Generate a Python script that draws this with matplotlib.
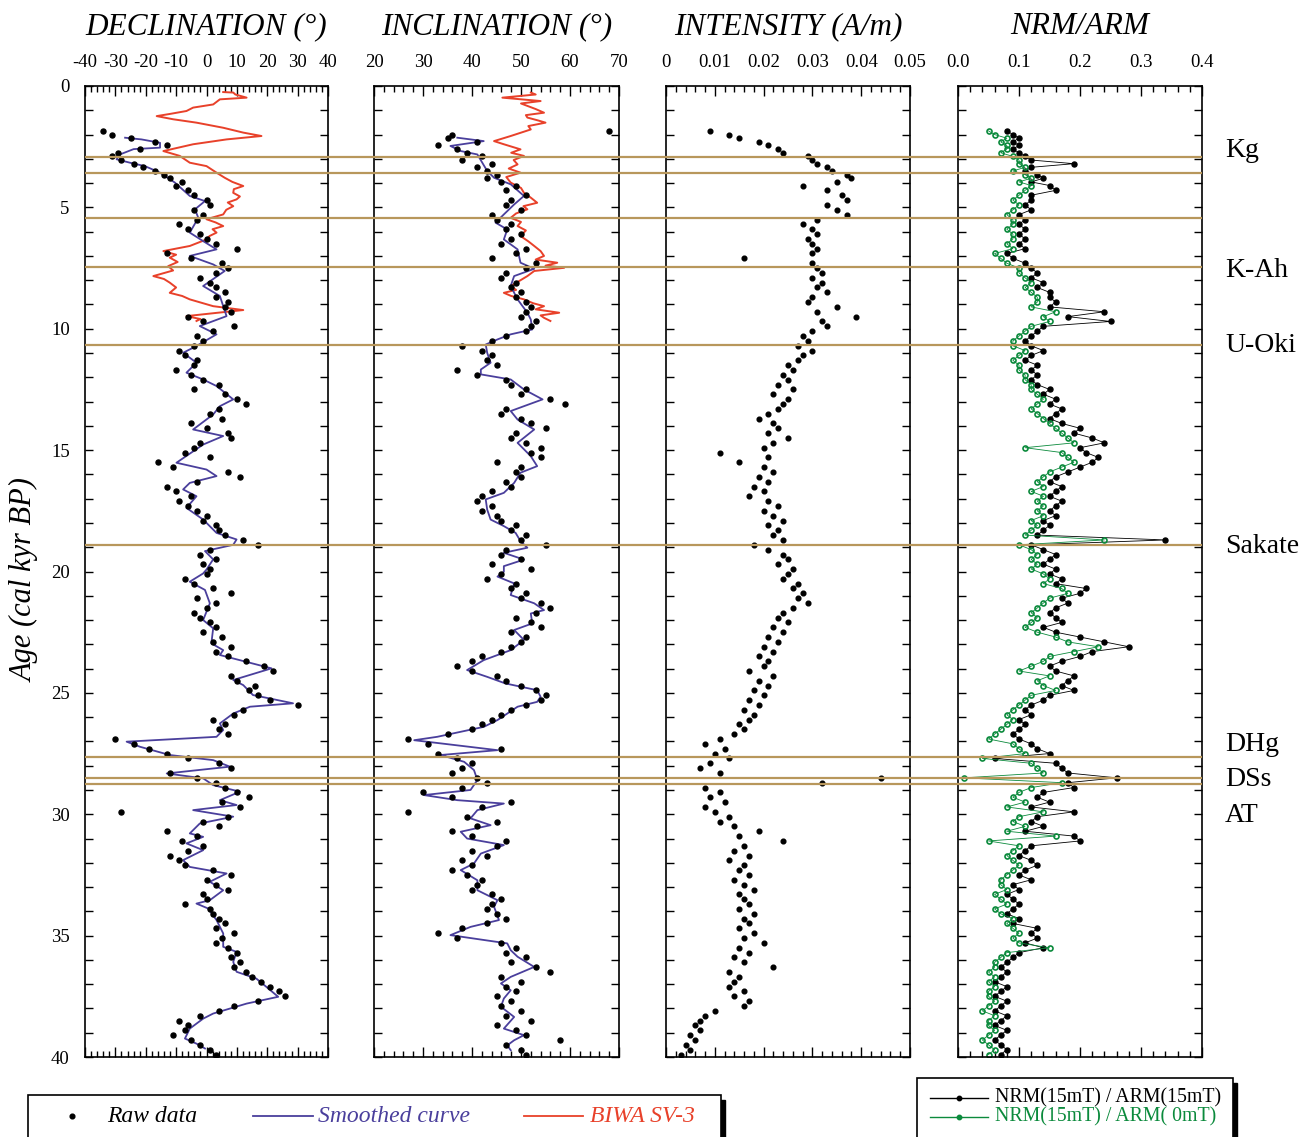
import matplotlib
matplotlib.use('Agg')
import matplotlib.pyplot as plt
from matplotlib.ticker import MultipleLocator
from matplotlib.patches import Rectangle
from matplotlib.lines import Line2D

plt.rcParams['font.family'] = ['Liberation Serif', 'DejaVu Serif']
plt.rcParams['axes.unicode_minus'] = False

# sample ages (cal kyr BP), shared by all raw-data columns
ages = [1.85, 2.0, 2.15, 2.3, 2.45, 2.6, 2.75, 2.9, 3.05, 3.2, 3.35, 3.5, 3.65, 3.8, 3.95,
        4.1, 4.3, 4.5, 4.7, 4.9, 5.1, 5.3, 5.5, 5.7, 5.9,
        6.1, 6.3, 6.5, 6.7, 6.9, 7.1, 7.3, 7.5, 7.7, 7.9,
        8.1, 8.3, 8.5, 8.7, 8.9, 9.1, 9.3, 9.5, 9.7, 9.9,
        10.1, 10.3, 10.5, 10.7, 10.9, 11.1, 11.3, 11.5, 11.7, 11.9,
        12.1, 12.3, 12.5, 12.7, 12.9, 13.1, 13.3, 13.5, 13.7, 13.9,
        14.1, 14.3, 14.5, 14.7, 14.9, 15.1, 15.3, 15.5, 15.7, 15.9,
        16.1, 16.3, 16.5, 16.7, 16.9, 17.1, 17.3, 17.5, 17.7, 17.9,
        18.1, 18.3, 18.5, 18.7, 18.9, 19.1, 19.3, 19.5, 19.7, 19.9,
        20.1, 20.3, 20.5, 20.7, 20.9, 21.1, 21.3, 21.5, 21.7, 21.9,
        22.1, 22.3, 22.5, 22.7, 22.9, 23.1, 23.3, 23.5, 23.7, 23.9,
        24.1, 24.3, 24.5, 24.7, 24.9, 25.1, 25.3, 25.5, 25.7, 25.9,
        26.1, 26.3, 26.5, 26.7, 26.9, 27.1, 27.3, 27.5, 27.7, 27.9,
        28.1, 28.3, 28.5, 28.7, 28.9, 29.1, 29.3, 29.5, 29.7, 29.9,
        30.1, 30.3, 30.5, 30.7, 30.9, 31.1, 31.3, 31.5, 31.7, 31.9,
        32.1, 32.3, 32.5, 32.7, 32.9, 33.1, 33.3, 33.5, 33.7, 33.9,
        34.1, 34.3, 34.5, 34.7, 34.9, 35.1, 35.3, 35.5, 35.7, 35.9,
        36.1, 36.3, 36.5, 36.7, 36.9, 37.1, 37.3, 37.5, 37.7, 37.9,
        38.1, 38.3, 38.5, 38.7, 38.9, 39.1, 39.3, 39.5, 39.7, 39.9]

dec_raw = [-34, -31, -25, -17, -13, -22, -29, -31, -28, -24, -21, -17, -14, -12, -8,
           -10, -6, -4, 0, 1, -4, -1, -3, -9, -6,
           -2, 0, 3, 10, -13, -5, 5, 7, 3, -2,
           1, 3, 6, 3, 7, 6, 8, -6, -1, 9,
           2, -3, -1, -4, -9, -7, -3, -4, -10, -5,
           -1, 4, -4, 6, 10, 13, 4, 1, 5, -5,
           0, 7, 8, -2, -4, -7, 1, -16, -11, 7,
           11, -3, -13, -10, -5, -9, -6, -3, 0, -1,
           3, 4, 6, 12, 17, 1, -2, 3, -1, 1,
           0, -7, -4, 2, 8, -3, 3, 0, -4, -2,
           1, 3, -1, 5, 2, 8, 3, 7, 13, 19,
           22, 8, 10, 16, 14, 17, 21, 30, 12, 9,
           2, 6, 4, 7, -30, -24, -19, -13, -6, 4,
           8, -12, -3, 3, 6, 10, 14, 5, 11, -28,
           7, -1, 4, -13, -3, -8, -1, -6, -12, -9,
           -7, 2, 8, 0, 3, 7, -1, 0, -7, 1,
           2, 4, 6, 3, 9, 5, 3, 7, 10, 8,
           11, 9, 13, 15, 18, 21, 24, 26, 17, 9,
           4, -2, -9, -6, -7, -11, -5, -2, 1, 3]

inc_raw = [68, 36, 35, 41, 33, 37, 39, 42, 38, 44, 41, 43, 45, 43, 46,
           49, 47, 51, 48, 47, 50, 44, 45, 48, 47,
           50, 48, 46, 51, 49, 44, 53, 51, 47, 46,
           49, 48, 50, 49, 51, 52, 51, 50, 53, 52,
           51, 47, 44, 38, 42, 44, 43, 45, 37, 41,
           47, 48, 51, 50, 56, 59, 47, 46, 50, 52,
           55, 49, 48, 51, 54, 52, 54, 45, 50, 49,
           50, 47, 48, 44, 42, 41, 44, 42, 45, 46,
           49, 48, 51, 50, 55, 47, 46, 50, 44, 52,
           46, 43, 49, 48, 51, 50, 54, 56, 53, 49,
           52, 54, 48, 51, 50, 48, 46, 42, 40, 37,
           40, 45, 47, 50, 53, 55, 54, 51, 48, 46,
           44, 42, 40, 35, 27, 31, 46, 33, 37, 40,
           38, 36, 41, 43, 38, 30, 36, 48, 42, 27,
           39, 45, 41, 36, 40, 47, 45, 40, 43, 38,
           40, 36, 39, 42, 41, 40, 44, 46, 44, 43,
           45, 47, 43, 38, 33, 37, 46, 49, 47, 51,
           48, 53, 56, 46, 50, 47, 49, 45, 48, 46,
           50, 47, 52, 45, 49, 51, 58, 47, 50, 51]

intensity = [.009, .013, .015, .019, .021, .023, .024, .029, .030, .031, .033, .034, .037, .038, .035,
             .028, .033, .036, .037, .033, .035, .037, .031, .028, .030,
             .031, .029, .030, .031, .030, .016, .030, .031, .032, .030,
             .032, .031, .033, .030, .029, .035, .031, .039, .032, .033,
             .030, .028, .029, .027, .030, .028, .027, .025, .026, .024,
             .025, .023, .026, .022, .025, .024, .023, .021, .019, .022,
             .023, .021, .025, .022, .020, .011, .021, .015, .020, .022,
             .019, .021, .018, .020, .017, .021, .023, .020, .022, .024,
             .021, .023, .022, .024, .018, .021, .024, .025, .023, .026,
             .025, .024, .027, .026, .028, .027, .029, .026, .024, .023,
             .025, .022, .024, .021, .023, .020, .022, .019, .021, .020,
             .017, .022, .019, .021, .018, .020, .017, .019, .016, .018,
             .017, .015, .016, .014, .011, .008, .012, .010, .013, .009,
             .007, .011, .044, .032, .008, .011, .009, .012, .008, .010,
             .013, .011, .014, .019, .015, .024, .016, .014, .017, .013,
             .016, .015, .017, .014, .016, .018, .015, .016, .017, .015,
             .018, .016, .017, .015, .018, .016, .020, .015, .017, .014,
             .016, .022, .013, .015, .014, .013, .016, .014, .017, .016,
             .010, .008, .007, .006, .007, .005, .006, .004, .005, .003]

nrm_arm15 = [.08, .09, .10, .09, .10, .09, .10, .11, .12, .19, .12, .11, .13, .14, .12,
             .15, .16, .12, .12, .11, .12, .10, .11, .10, .11,
             .10, .11, .10, .11, .08, .09, .11, .12, .13, .12,
             .14, .13, .15, .15, .16, .15, .24, .18, .25, .14,
             .13, .12, .11, .12, .14, .12, .11, .13, .12, .13,
             .12, .13, .15, .14, .16, .15, .17, .16, .15, .17,
             .20, .19, .22, .24, .20, .21, .23, .22, .20, .18,
             .16, .15, .17, .16, .15, .17, .16, .15, .16, .14,
             .15, .14, .13, .34, .12, .14, .16, .15, .14, .16,
             .15, .17, .16, .21, .20, .17, .18, .16, .15, .16,
             .17, .14, .16, .20, .24, .28, .22, .20, .17, .15,
             .16, .19, .18, .17, .19, .15, .14, .12, .11, .12,
             .10, .11, .10, .09, .10, .12, .13, .15, .06, .16,
             .17, .18, .26, .18, .19, .14, .13, .15, .12, .19,
             .13, .12, .14, .11, .19, .20, .12, .11, .10, .12,
             .13, .11, .10, .12, .09, .10, .08, .09, .10, .09,
             .08, .10, .09, .13, .12, .13, .11, .14, .10, .09,
             .08, .07, .08, .07, .06, .08, .07, .06, .08, .07,
             .06, .08, .07, .06, .08, .07, .06, .07, .08, .07]

nrm_arm0 = [.05, .06, .08, .07, .08, .08, .07, .09, .10, .10, .11, .09, .11, .12, .10,
            .12, .11, .10, .09, .10, .09, .08, .09, .09, .08,
            .09, .09, .08, .09, .06, .07, .08, .10, .10, .11,
            .12, .11, .12, .13, .13, .12, .16, .14, .15, .12,
            .11, .10, .09, .09, .11, .10, .09, .10, .10, .11,
            .11, .12, .12, .13, .14, .13, .12, .13, .14, .15,
            .16, .17, .18, .19, .11, .17, .18, .19, .17, .15,
            .14, .13, .14, .12, .14, .13, .14, .13, .14, .12,
            .13, .12, .11, .24, .10, .12, .13, .12, .13, .12,
            .14, .15, .14, .17, .18, .15, .14, .13, .12, .13,
            .12, .11, .13, .16, .18, .23, .19, .15, .14, .12,
            .10, .15, .13, .14, .16, .12, .11, .10, .09, .08,
            .09, .08, .07, .06, .05, .09, .10, .11, .04, .12,
            .13, .14, .01, .17, .12, .10, .09, .11, .08, .14,
            .10, .09, .11, .08, .16, .05, .10, .09, .08, .09,
            .10, .09, .08, .07, .07, .08, .06, .07, .08, .06,
            .07, .09, .08, .09, .10, .09, .10, .15, .08, .07,
            .06, .06, .05, .06, .05, .06, .05, .05, .06, .05,
            .04, .06, .05, .05, .06, .05, .04, .05, .06, .05]

# smoothed curves
dec_sm_age = [2.13, 2.2, 2.34, 2.54, 2.6, 2.82, 3.02, 3.16, 3.3, 3.57, 3.98, 4.53, 4.74, 5.08,
              5.43, 6.04, 6.39, 6.73, 7.0, 7.35, 7.62, 8.24, 8.65, 9.48, 9.89, 10.23, 10.71,
              10.99, 11.4, 11.81, 12.09, 12.36, 12.91, 13.19, 13.53, 14.15, 14.42, 14.77,
              15.52, 15.8, 16.07, 16.35, 16.62, 16.9, 17.38, 17.86, 18.41, 18.68, 18.9, 19.16,
              19.5, 19.92, 20.08, 20.42, 20.76, 21.31, 22.0, 22.34, 22.96, 23.24, 23.44, 23.99,
              24.47, 24.68, 25.09, 25.23, 25.43, 25.57, 25.85, 26.26, 26.53, 26.81, 27.01,
              27.22, 27.56, 27.77, 28.04, 28.32, 28.52, 28.8, 29.07, 29.42, 29.62, 29.83, 30.1,
              30.38, 30.79, 30.93, 31.2, 31.48, 31.89, 32.17, 32.44, 32.78, 33.13, 33.54,
              33.68, 33.88, 34.36, 34.91, 35.46, 35.67, 36.08, 36.49, 36.77, 37.11, 37.52,
              37.8, 38.21, 38.42, 38.83, 39.24, 39.45, 39.65]
dec_sm = [-26.8, -21.4, -15.3, -15.3, -24, -28.5, -29.6, -25.2, -20.3, -15.3, -10.4, -5.5, -0.5,
          -3.8, -2.7, -5.5, -1.1, 3.3, -5.5, 2.2, 6.0, -1.1, 4.4, 6.6, -2.2, 3.3, -3.3, -7.7,
          -3.3, -6.6, -1.1, 3.3, 8.8, 4.4, 2.2, -4.4, 5.5, -1.1, -9.9, 0, 3.3, -5.5, -7.7,
          -3.3, -6.6, -1.1, 3.3, 9.9, 8.8, -0.5, 2.2, 0, -1.1, -5.5, -0.5, 1.1, -1.1, 2.2,
          1.6, 5.5, 4.4, 21.4, 8.8, 12.1, 15.3, 20.8, 28.5, 14.3, 8.8, 4.4, 5.5, 3.3, -26.3,
          -21.9, -12.1, 2.2, 7.7, -13.1, -1.1, 2.2, 11.0, 4.4, 9.9, -4.4, 8.8, -2.2, -5.5,
          -1.1, -6.6, -1.1, -7.7, -5.5, 6.6, 1.1, 5.5, 1.1, -3.3, 0.5, 3.3, 5.5, 5.5, 9.9,
          8.8, 9.9, 16.4, 19.7, 23.6, 13.2, 2.2, -1.1, -5.5, -7.1, -3.3, -0.5]

inc_sm_age = [2.13, 2.27, 2.47, 2.68, 2.82, 3.16, 3.5, 3.78, 4.05, 4.53, 4.88, 5.29, 5.63, 5.91,
              6.32, 6.73, 7.28, 7.53, 7.83, 8.24, 8.79, 9.34, 9.62, 10.03, 10.23, 10.44, 10.65,
              10.99, 11.4, 11.68, 11.88, 12.09, 12.5, 12.91, 13.19, 13.39, 13.74, 14.15, 14.7,
              15.25, 15.66, 15.93, 16.35, 16.76, 17.03, 17.45, 17.86, 18.13, 18.41, 18.75,
              19.02, 19.23, 19.51, 19.78, 20.01, 20.21, 20.49, 20.97, 21.31, 21.59, 21.73,
              22.14, 22.41, 22.82, 23.24, 23.65, 24.06, 24.34, 24.61, 24.89, 25.16, 25.37,
              25.57, 26.12, 26.4, 26.81, 26.95, 27.36, 27.56, 27.84, 28.18, 28.59, 29.0, 29.21,
              29.42, 29.56, 29.83, 30.17, 30.45, 30.72, 31.0, 31.27, 31.62, 32.03, 32.3, 32.72,
              33.13, 33.54, 33.81, 34.36, 34.64, 34.98, 35.32, 35.6, 35.87, 36.29, 36.7, 36.97,
              37.25, 37.59, 37.93, 38.35, 38.83, 39.1, 39.31, 39.52, 39.72]
inc_sm = [37, 42.4, 35.6, 37.7, 41.1, 42.1, 43.1, 44.5, 47.9, 50.6, 48.6, 46.5, 44.8, 47.2,
          46.5, 49.3, 49.9, 52.7, 48.6, 47.9, 49.3, 51.3, 52.0, 52.3, 47.9, 45.2, 42.8, 43.1,
          43.8, 41.8, 41.8, 47.9, 50.6, 54.4, 50.6, 47.9, 49.3, 52.7, 49.3, 52.0, 53.3, 49.9,
          48.6, 46.5, 42.8, 43.1, 43.8, 46.5, 48.9, 49.9, 51.3, 46.5, 50.6, 46.5, 46.5, 45.2,
          48.6, 47.9, 52.7, 54.7, 52.0, 52.3, 48.6, 50.6, 47.9, 42.4, 39.0, 43.1, 46.8, 53.3,
          54.0, 53.3, 49.3, 45.2, 42.4, 32.9, 28.2, 45.2, 33.6, 38.4, 40.4, 41.1, 39.7, 30.2,
          37.0, 46.5, 41.1, 39.7, 43.8, 37.7, 39.0, 46.5, 41.8, 40.4, 37.7, 41.1, 41.1, 45.2,
          44.5, 45.5, 39.7, 35.6, 47.2, 47.9, 49.3, 52.7, 47.9, 45.9, 47.9, 46.5, 45.9, 48.6,
          46.5, 50.6, 48.6, 47.2, 47.9]

# BIWA SV-3 reference curve
biwa_dec_age = [0.25, 0.27, 0.35, 0.48, 0.55, 0.76, 0.89, 1.03, 1.15, 1.24, 1.37, 1.51, 1.72,
                1.92, 2.06, 2.2, 2.4, 2.68, 2.88, 3.16, 3.3, 3.57, 3.78, 3.95, 4.12, 4.25, 4.4,
                4.55, 4.67, 4.8, 4.95, 5.1, 5.29, 5.49, 5.62, 5.77, 5.9, 6.04, 6.18, 6.32, 6.59,
                6.8, 6.95, 7.07, 7.25, 7.42, 7.6, 7.83, 7.95, 8.1, 8.3, 8.52, 8.65, 8.79, 9.07,
                9.23, 9.35, 9.48, 9.6, 9.68]
biwa_dec = [5.5, 8.8, 9.5, 13.2, 4.4, 2.2, -4.4, -6.6, -12.0, -16.4, -11.0, -3.3, 5.5, 12.1,
            18.1, 6.6, -4.4, -14.2, -8.8, -5.5, 0, 3.3, 6.0, 8.5, 12.1, 9.0, 8.8, 11.0, 9.9,
            7.0, 8.8, 6.5, 5.5, 0, 3.0, 5.5, 2.0, 3.3, 1.0, 0, -5.5, -14.2, -10.0, -12.1, -9.5,
            -12.6, -11.0, -17.5, -14.0, -12.1, -10.0, -12.1, -8.0, -5.5, 2.2, 12.1, 3.0, -6.6,
            -2.0, -3.3]

biwa_inc_age = [0.27, 0.35, 0.48, 0.62, 0.72, 0.82, 0.95, 1.1, 1.2, 1.3, 1.42, 1.51, 1.65,
                1.79, 2.06, 2.27, 2.4, 2.61, 2.75, 2.88, 3.05, 3.23, 3.4, 3.57, 3.75, 3.98, 4.2,
                4.4, 4.6, 4.81, 4.95, 5.08, 5.25, 5.43, 5.6, 5.77, 5.95, 6.18, 6.4, 6.59, 6.8,
                7.0, 7.15, 7.28, 7.4, 7.49, 7.62, 7.83, 8.05, 8.24, 8.4, 8.52, 8.65, 8.79, 8.95,
                9.07, 9.2, 9.34, 9.45, 9.55, 9.68]
biwa_inc = [52.0, 53.0, 46.2, 54.0, 50.0, 51.3, 53.0, 54.7, 51.0, 51.3, 53.5, 55.0, 51.5,
            52.0, 47.9, 44.5, 46.5, 49.9, 48.0, 50.6, 48.5, 49.3, 47.5, 49.9, 47.0, 47.9, 50.0,
            50.6, 52.0, 53.3, 50.5, 51.3, 49.0, 47.9, 50.0, 49.3, 51.0, 49.9, 51.5, 52.7, 54.0,
            54.7, 53.0, 57.4, 55.0, 58.8, 52.7, 51.3, 49.5, 47.9, 49.0, 46.5, 48.0, 50.6, 52.5,
            54.7, 53.0, 57.8, 54.0, 54.7, 56.0]

# tephra layers
tephra_ages = [2.93, 3.58, 5.44, 7.46, 10.67, 18.91, 27.65, 28.51, 28.76]
tephra_names = ['Kg', 'K-Ah', 'U-Oki', 'Sakate', 'DHg', 'DSs', 'AT']
tephra_label_ages = [2.64, 7.58, 10.67, 18.95, 27.11, 28.55, 30.04]

BLUE = '#4a3f9c'
RED = '#e8412a'
GREEN = '#0b8a3c'
TAN = '#b8975c'

fig = plt.figure(figsize=(13.02, 11.37), dpi=100)
W, H = 1302.0, 1137.0
top_px, bot_px = 86, 1057
bottom = 1 - bot_px / H
height = (bot_px - top_px) / H

panels = [(85, 328), (374, 619), (666, 910), (958, 1202)]
axes = []
for l, r in panels:
    axes.append(fig.add_axes([l / W, bottom, (r - l) / W, height]))

titles = ['DECLINATION (°)', 'INCLINATION (°)', 'INTENSITY (A/m)', 'NRM/ARM']
xlims = [(-40, 40), (20, 70), (0, 0.05), (0, 0.4)]
xticks = [[-40, -30, -20, -10, 0, 10, 20, 30, 40],
          [20, 30, 40, 50, 60, 70],
          [0, 0.01, 0.02, 0.03, 0.04, 0.05],
          [0, 0.1, 0.2, 0.3, 0.4]]
xticklabels = [['-40', '-30', '-20', '-10', '0', '10', '20', '30', '40'],
               ['20', '30', '40', '50', '60', '70'],
               ['0', '0.01', '0.02', '0.03', '0.04', '0.05'],
               ['0.0', '0.1', '0.2', '0.3', '0.4']]
minors = [2, 2, 0.002, 0.02]

for i, ax in enumerate(axes):
    ax.set_xlim(*xlims[i])
    ax.set_ylim(40, 0)
    ax.set_xticks(xticks[i])
    ax.set_xticklabels(xticklabels[i])
    ax.xaxis.set_minor_locator(MultipleLocator(minors[i]))
    ax.yaxis.set_major_locator(MultipleLocator(5))
    ax.yaxis.set_minor_locator(MultipleLocator(1))
    ax.tick_params(axis='x', which='both', direction='in', top=True, bottom=True,
                   labeltop=True, labelbottom=False, labelsize=13.5, pad=11, width=1)
    ax.tick_params(axis='x', which='major', length=7)
    ax.tick_params(axis='x', which='minor', length=4)
    ax.tick_params(axis='y', which='both', direction='in', left=True, right=True,
                   labelleft=(i == 0), labelsize=13.5, pad=11, length=6, width=1)
    for s in ax.spines.values():
        s.set_linewidth(1.2)
    cx = (panels[i][0] + panels[i][1]) / 2 / W
    fig.text(cx, 1 - 27 / H, titles[i], ha='center', va='center',
             fontsize=22.5, style='italic')

# declination
ax = axes[0]
ax.plot(biwa_dec, biwa_dec_age, color=RED, lw=1.4, zorder=2)
ax.plot(dec_sm, dec_sm_age, color=BLUE, lw=1.3, zorder=3)
ax.plot(dec_raw, ages, 'o', color='black', ms=3.6, zorder=4)

# inclination
ax = axes[1]
ax.plot(biwa_inc, biwa_inc_age, color=RED, lw=1.4, zorder=2)
ax.plot(inc_sm, inc_sm_age, color=BLUE, lw=1.3, zorder=3)
ax.plot(inc_raw, ages, 'o', color='black', ms=3.6, zorder=4)

# intensity
axes[2].plot(intensity, ages, 'o', color='black', ms=3.4)

# NRM/ARM
ax = axes[3]
ax.plot(nrm_arm15, ages, '-o', color='black', lw=0.6, ms=3.6)
ax.plot(nrm_arm0, ages, '-o', color=GREEN, lw=0.6, ms=3.6, mfc='none', mew=1.2)

fig.text(25 / W, 1 - 580 / H, 'Age (cal kyr BP)', rotation=90, ha='center', va='center',
         fontsize=22, style='italic')

# tephra lines across all panels
ov = fig.add_axes([85 / W, bottom, (1202 - 85) / W, height])
ov.set_xlim(0, 1)
ov.set_ylim(40, 0)
ov.axis('off')
for t in tephra_ages:
    ov.axhline(t, color=TAN, lw=1.6)
for name, a in zip(tephra_names, tephra_label_ages):
    ov.text(1.0206, a, name, ha='left', va='center', fontsize=20, clip_on=False)

# legend boxes
def box(x0, y0, x1, y1):
    fig.add_artist(Rectangle((x0 / W + 0.003, 1 - y1 / H - 0.004), (x1 - x0) / W,
                             (y1 - y0) / H, facecolor='black', edgecolor='black',
                             transform=fig.transFigure, zorder=5))
    fig.add_artist(Rectangle((x0 / W, 1 - y1 / H), (x1 - x0) / W, (y1 - y0) / H,
                             facecolor='white', edgecolor='black', lw=1.2,
                             transform=fig.transFigure, zorder=6))

box(28, 1095, 721, 1150)
yl = 1 - 1116 / H
fig.add_artist(Line2D([72 / W], [yl], marker='o', color='black', ms=3.4, ls='none',
                      transform=fig.transFigure, zorder=7))
fig.text(107 / W, yl, 'Raw data', fontsize=17, style='italic', va='center', zorder=7)
fig.add_artist(Line2D([253 / W, 313 / W], [yl, yl], color=BLUE, lw=1.3,
                      transform=fig.transFigure, zorder=7))
fig.text(318 / W, yl, 'Smoothed curve', fontsize=17, style='italic', va='center',
         color=BLUE, zorder=7)
fig.add_artist(Line2D([524 / W, 583 / W], [yl, yl], color=RED, lw=1.3,
                      transform=fig.transFigure, zorder=7))
fig.text(590 / W, yl, 'BIWA SV-3', fontsize=17, style='italic', va='center',
         color=RED, zorder=7)

box(917, 1078, 1233, 1150)
for yy, c, lab in [(1098, 'black', 'NRM(15mT) / ARM(15mT)'),
                   (1117, GREEN, 'NRM(15mT) / ARM( 0mT)')]:
    yf = 1 - yy / H
    fig.add_artist(Line2D([930 / W, 988 / W], [yf, yf], color=c, lw=1.0,
                          transform=fig.transFigure, zorder=7))
    fig.add_artist(Line2D([959 / W], [yf], marker='o', color=c, ms=3.2, ls='none',
                          transform=fig.transFigure, zorder=7))
    fig.text(995 / W, yf, lab, fontsize=14.3, va='center', color=c, zorder=7)

fig.savefig('out.png', dpi=100)
